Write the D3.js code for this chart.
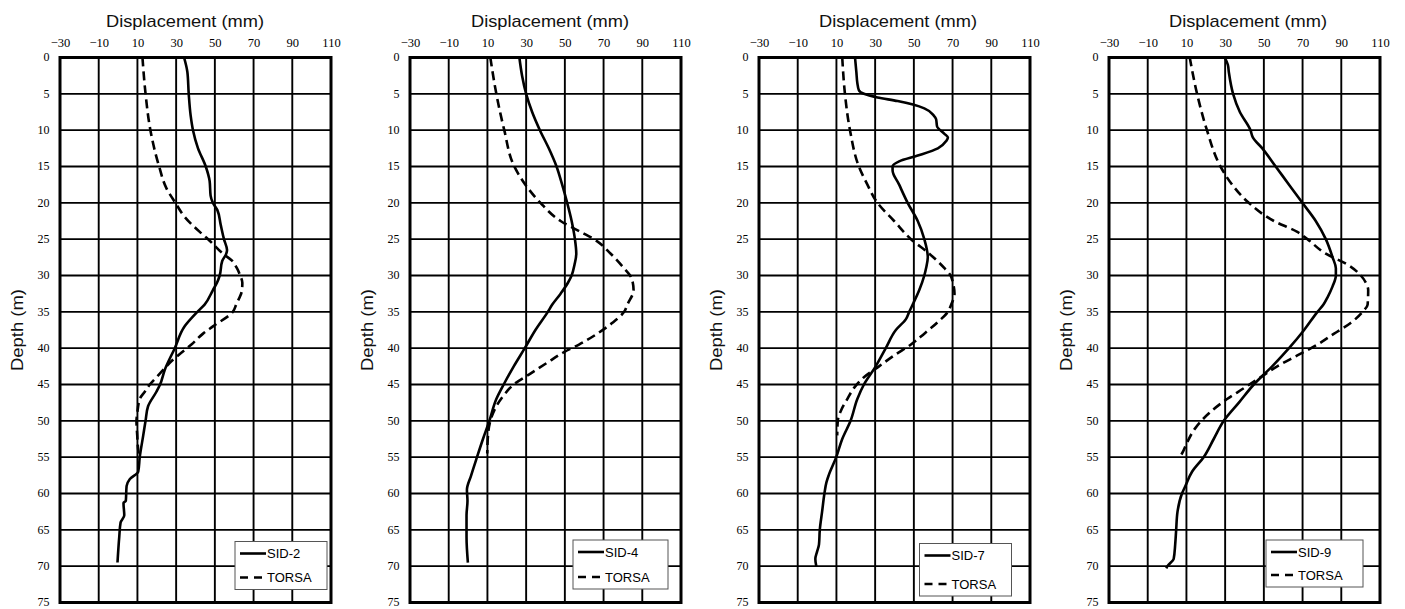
<!DOCTYPE html>
<html>
<head>
<meta charset="utf-8">
<script src="https://cdn.jsdelivr.net/npm/d3@7"></script>
<style>
  html, body { margin: 0; padding: 0; background: #fff; }
  svg { display: block; }
</style>
</head>
<body>
<svg id="chart" width="1405" height="609"></svg>
<script>
// ---------- DATA ----------
const xTicks = [-30, -10, 10, 30, 50, 70, 90, 110];
const yTicks = [0, 5, 10, 15, 20, 25, 30, 35, 40, 45, 50, 55, 60, 65, 70, 75];
const xTitle = "Displacement (mm)";
const yTitle = "Depth (m)";
const modelName = "TORSA";
const inclinometerNames = ["SID-2", "SID-4", "SID-7", "SID-9"];

// [depth (m), displacement (mm)]
const sid2 = [[0,34.1],[2,35.8],[5,36.5],[8,37.5],[10,38.7],[12.5,41.3],[15,45.3],[17,47.3],[19,47.8],[20,49],[21,51.3],[23,53],[25,54.7],[26.5,56.3],[27,55.9],[28,53.8],[30,52.5],[31,51.1],[32,49],[34,44.7],[35,41],[37,34.4],[40,29.3],[43,24.1],[45,21.7],[46,19.8],[48,15.5],[50,14.2],[52,13],[55,11.2],[57,10.4],[58,6.1],[59,4.4],[61,4],[61.3,2.8],[63,3.2],[64,1.3],[66,0.6],[69.5,-0.3]];
const torsa2 = [[0,12.6],[5,14.2],[10,16.7],[15,21.2],[18,25],[20,29.6],[22,34.6],[24,42.2],[25,46.5],[27,54.2],[28,59],[29,61.4],[30,63.1],[31,64.2],[32,64],[34,61],[35,59.3],[37,49],[38,43.9],[39.5,37.9],[41,31],[42,26.7],[43,23.3],[44,19.8],[45,16.4],[46,13.8],[47,11.2],[49,9.9],[50,9.5],[52,9.9],[54,10.4],[55,10.9]];

const sid4 = [[0,26.5],[2.5,27.9],[5,30],[7.5,33.1],[10,37.1],[12.5,41.7],[15,45.7],[17.5,48.6],[20,51.2],[22.5,53.5],[25,55.2],[27,55.9],[28.5,55],[30,53.5],[31,51.6],[32.5,47.8],[34,43.5],[35,41.2],[37.5,34.8],[40,29.3],[42.5,23.6],[45,18.4],[47,14.6],[50,11],[52.5,7.7],[55,4.6],[57.5,1.6],[59.5,-0.6],[61,-0.3],[63,-0.8],[66,-0.8],[69.5,-0.1]];
const torsa4 = [[0,11.5],[5,14.6],[10,18.7],[15,23.9],[17.5,29.6],[20,37.4],[22.5,47.8],[24,58.1],[25,65.1],[27,73.7],[29,80.6],[30,83.7],[31,85.1],[32,85.5],[34,82.3],[35,80.6],[36.5,74.6],[38,66.8],[39.5,57.3],[40.5,49.8],[42,40.9],[43.5,32.2],[45,23.6],[46.5,18.4],[48,14.6],[50,11.5],[52,10.3],[54.5,9.9]];

const sid7 = [[0,19.6],[2,20.3],[3.5,20.8],[4.5,21.6],[5,24.2],[5.5,31.2],[6,41.6],[7,55.4],[8,60.3],[8.5,61.5],[9.5,62],[10.5,65.8],[11,67.6],[11.5,66.7],[12.5,62.4],[13.5,52],[14.3,42.4],[15,39],[15.5,39],[17.5,42.4],[20,46.8],[22.5,52],[25,55.4],[27.5,57.2],[29,56.3],[30,55.4],[32,52.8],[34,49.4],[35,47.6],[36,45.9],[37.5,40.7],[40,35.5],[42.5,30.3],[45,24.2],[47,20.8],[50,17.3],[52.5,13],[55,9.9],[57.5,6],[58.5,4.8],[60,3.8],[62.5,2.6],[65,1.4],[67,1],[68,0],[69,-0.9],[70,-0.4]];
const torsa7 = [[0,13],[5,14.4],[10,17],[15,21.6],[17.5,26],[20,31.2],[22.5,39.8],[25,48.5],[27,58],[29,65.8],[30,69],[31,70.2],[32.5,71],[34,69.3],[35,67.6],[36.5,62],[38,55.4],[39.5,48.5],[41,39.8],[42.5,32],[44,24.2],[45.5,19],[47,15.6],[48.5,12.5],[50,10.7],[52,10.4]];

const sid9 = [[0,29.8],[1,31.4],[2,31.9],[5,34.1],[7.5,37.6],[10,43.1],[11,44.3],[12.5,49.2],[15,56.1],[17.5,63],[20,69.9],[22.5,76.8],[25,82],[27.5,85.5],[29,87.2],[30,87.2],[31.5,85.5],[33,82.9],[34,80.8],[35,77.7],[37.5,70.8],[40,63],[42.5,54.3],[45,44.8],[47.5,37.1],[50,29.3],[52.5,24.1],[55,18.9],[57,12.9],[59,9.4],[60,7.7],[62.5,5.4],[65,4.7],[67,4.2],[69,3.4],[70,0.2],[70.3,-0.4]];
const torsa9 = [[0,11.7],[5,15.5],[10,20.6],[15,27.6],[17.5,33.6],[20,42.2],[22.5,55.2],[24,67.3],[25,72.5],[27,82],[28.5,93.2],[30,100.1],[31,102.7],[32,103.9],[34,103.6],[35,101],[36.5,95],[38,86.3],[39.5,77.7],[41,67.3],[42.5,56.9],[44,48.3],[45.5,39.7],[47,31],[49,21.5],[51,14.6],[53,10.3],[54.5,7.7],[55,6.5]];

const measured = [sid2, sid4, sid7, sid9];
const predicted = [torsa2, torsa4, torsa7, torsa9];

// ---------- LAYOUT ----------
const panelLeft = [60, 410, 759, 1109];
const titleCenter = [125, 140, 139, 139];           // offset from panel left
const legendBox = [[175, 484, 92, 48], [163, 482.5, 95, 49], [160.5, 486, 92, 52.5], [157, 482.5, 97, 47]];
const plotTop = 57.5, plotH = 545, plotW = 271;

const svg = d3.select("#chart");
const sans = "'Liberation Sans', Arial, sans-serif";
const serif = "'Liberation Serif', 'Times New Roman', serif";

const x = d3.scaleLinear().domain([-30, 110]).range([0, plotW]);
const y = d3.scaleLinear().domain([0, 75]).range([0, plotH]);
const line = d3.line().x(d => x(d[1])).y(d => y(d[0])).curve(d3.curveMonotoneY);

panelLeft.forEach((left, i) => {
  const g = svg.append("g").attr("transform", `translate(${left},${plotTop})`);

  // grid
  g.append("g").selectAll("line").data(xTicks.slice(1, -1)).join("line")
    .attr("x1", d => x(d)).attr("x2", d => x(d)).attr("y1", 0).attr("y2", plotH)
    .attr("stroke", "#000").attr("stroke-width", 1.9);
  g.append("g").selectAll("line").data(yTicks.slice(1, -1)).join("line")
    .attr("y1", d => y(d)).attr("y2", d => y(d)).attr("x1", 0).attr("x2", plotW)
    .attr("stroke", "#000").attr("stroke-width", 1.9);

  // axes (labels only)
  const xa = g.append("g").call(d3.axisTop(x).tickValues(xTicks).tickSize(0).tickPadding(10.5).tickFormat(d3.format("d")));
  xa.select(".domain").remove();
  xa.attr("font-family", serif).attr("font-size", 12.5);
  xa.selectAll("text").attr("fill", "#000");

  const ya = g.append("g").call(d3.axisLeft(y).tickValues(yTicks).tickSize(0).tickPadding(10.5).tickFormat(d3.format("d")));
  ya.select(".domain").remove();
  ya.attr("font-family", serif).attr("font-size", 12);
  ya.selectAll("text").attr("fill", "#000").attr("dy", "0.28em");

  // series
  g.append("path").datum(predicted[i]).attr("d", line)
    .attr("fill", "none").attr("stroke", "#000").attr("stroke-width", 2.6)
    .attr("stroke-dasharray", "9,5");
  g.append("path").datum(measured[i]).attr("d", line)
    .attr("fill", "none").attr("stroke", "#000").attr("stroke-width", 2.6)
    .attr("stroke-linejoin", "round");

  // border
  g.append("rect").attr("x", 0).attr("y", 0).attr("width", plotW).attr("height", plotH)
    .attr("fill", "none").attr("stroke", "#000").attr("stroke-width", 3);

  // titles
  g.append("text").attr("x", titleCenter[i]).attr("y", 26.7 - plotTop)
    .attr("text-anchor", "middle").attr("font-family", sans).attr("font-size", 17)
    .attr("fill", "#111")
    .attr("textLength", 158).attr("lengthAdjust", "spacingAndGlyphs")
    .text(xTitle);
  g.append("text").attr("transform", `translate(${-37},${plotH / 2}) rotate(-90)`)
    .attr("text-anchor", "middle").attr("font-family", sans).attr("font-size", 17)
    .attr("fill", "#111")
    .attr("textLength", 82).attr("lengthAdjust", "spacingAndGlyphs")
    .text(yTitle);

  // legend
  const [lx, ly, lw, lh] = legendBox[i];
  const lg = g.append("g").attr("transform", `translate(${lx},${ly})`);
  lg.append("rect").attr("width", lw).attr("height", lh)
    .attr("fill", "#fff").attr("stroke", "#555").attr("stroke-width", 1);
  const entries = [{ name: inclinometerNames[i], dash: null }, { name: modelName, dash: "8,6" }];
  const rowY = [12, lh - 12];
  entries.forEach((e, k) => {
    lg.append("line").attr("x1", 5).attr("x2", 31).attr("y1", rowY[k]).attr("y2", rowY[k])
      .attr("stroke", "#000").attr("stroke-width", 2.6)
      .attr("stroke-dasharray", e.dash);
    lg.append("text").attr("x", 32).attr("y", rowY[k]).attr("dy", "0.35em")
      .attr("font-family", sans).attr("font-size", 13).text(e.name);
  });
});
</script>
</body>
</html>
